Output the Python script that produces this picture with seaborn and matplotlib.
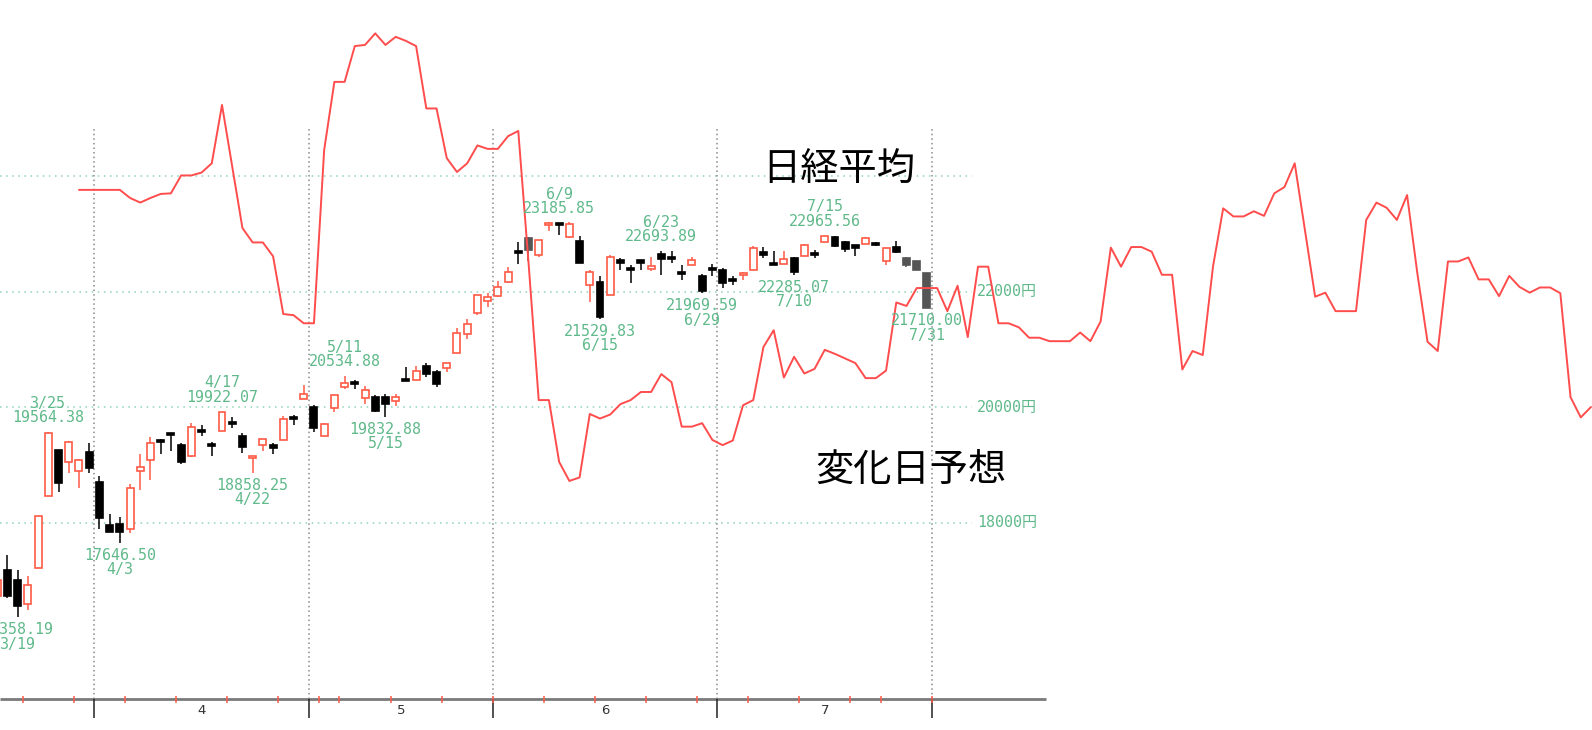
import numpy as np
import pandas as pd
import matplotlib
matplotlib.use('Agg')
import matplotlib.pyplot as plt
from matplotlib import font_manager
import seaborn as sns

# --- data --------------------------------------------------------------------
DATES = ['3/17', '3/18', '3/19', '3/23', '3/24', '3/25', '3/26', '3/27', '3/30', '3/31',
         '4/1', '4/2', '4/3', '4/6', '4/7', '4/8', '4/9', '4/10', '4/13', '4/14', '4/15',
         '4/16', '4/17', '4/20', '4/21', '4/22', '4/23', '4/24', '4/27', '4/28', '4/30',
         '5/1', '5/7', '5/8', '5/11', '5/12', '5/13', '5/14', '5/15', '5/18', '5/19',
         '5/20', '5/21', '5/22', '5/25', '5/26', '5/27', '5/28', '5/29',
         '6/1', '6/2', '6/3', '6/4', '6/5', '6/8', '6/9', '6/10', '6/11', '6/12', '6/15',
         '6/16', '6/17', '6/18', '6/19', '6/22', '6/23', '6/24', '6/25', '6/26', '6/29', '6/30',
         '7/1', '7/2', '7/3', '7/6', '7/7', '7/8', '7/9', '7/10', '7/13', '7/14', '7/15',
         '7/16', '7/17', '7/20', '7/21', '7/22', '7/27', '7/28', '7/29', '7/30', '7/31']

OPEN = [16720, 17180, 17000, 16590, 17220, 18460, 19250, 19040, 18900, 19220,
        18710, 17960, 17970, 17880, 18900, 19080, 19400, 19530, 19340, 19150, 19610,
        19330, 19580, 19720, 19500, 19120, 19340, 19340, 19430, 19810, 20140,
        20000, 19500, 19980, 20350, 20440, 20150, 20180, 20180, 20110, 20470,
        20470, 20710, 20610, 20670, 20940, 21260, 21630, 21840,
        21920, 22170, 22670, 22920, 22630, 23150, 23160, 22950, 22880, 22110, 22170,
        21940, 22550, 22390, 22540, 22390, 22650, 22580, 22320, 22460, 22270, 22380,
        22370, 22210, 22280, 22370, 22680, 22480, 22470, 22580, 22620, 22650, 22860,
        22940, 22850, 22800, 22820, 22810, 22520, 22770, 22580, 22520, 22320]
HIGH = [17060, 17440, 17180, 17070, 18120, 19564.38, 19250, 19410, 19100, 19370,
        18800, 18150, 18090, 18670, 19190, 19480, 19440, 19530, 19370, 19720, 19690,
        19400, 19922.07, 19820, 19550, 19160, 19450, 19370, 19850, 19870, 20380,
        20030, 19730, 20210, 20534.88, 20470, 20360, 20210, 20220, 20220, 20700,
        20710, 20760, 20640, 20760, 21360, 21520, 21940, 21970,
        22190, 22430, 22860, 22950, 22890, 23200, 23185.85, 23200, 22960, 22370, 22270,
        22630, 22580, 22460, 22540, 22590, 22693.89, 22700, 22460, 22590, 22300, 22480,
        22400, 22270, 22340, 22780, 22770, 22710, 22700, 22590, 22820, 22720, 22965.56,
        22960, 22880, 22800, 22950, 22860, 22750, 22880, 22590, 22520, 22320]
LOW = [16700, 16700, 16358.19, 16480, 17220, 18460, 18520, 18850, 18590, 18850,
       17880, 17840, 17646.50, 17820, 18560, 18740, 19190, 19240, 19020, 19130, 19490,
       19160, 19580, 19630, 19210, 18858.25, 19230, 19190, 19430, 19690, 20140,
       19570, 19490, 19920, 20310, 20320, 20060, 19920, 19832.88, 20020, 20450,
       20470, 20520, 20350, 20600, 20940, 21170, 21590, 21730,
       21900, 22140, 22480, 22520, 22590, 23050, 22970, 22920, 22500, 21820, 21529.83,
       21940, 22370, 22140, 22370, 22360, 22290, 22490, 22200, 22460, 21969.59, 22270,
       22060, 22110, 22200, 22370, 22580, 22460, 22470, 22285.07, 22620, 22580, 22860,
       22770, 22690, 22620, 22820, 22780, 22460, 22660, 22430, 22370, 21710.00]
CLOSE = [17010, 16730, 16560, 16920, 18110, 19550, 18690, 19400, 19090, 18940,
         18080, 17840, 17840, 18590, 18960, 19370, 19390, 19520, 19050, 19650, 19560,
         19320, 19910, 19710, 19300, 19160, 19450, 19290, 19800, 19800, 20220,
         19630, 19700, 20200, 20410, 20390, 20290, 19930, 20050, 20170, 20450,
         20630, 20570, 20390, 20760, 21290, 21440, 21940, 21900,
         22080, 22340, 22660, 22720, 22890, 23190, 23150, 23170, 22500, 22330, 21560,
         22600, 22490, 22380, 22500, 22440, 22560, 22570, 22310, 22550, 22010, 22370,
         22140, 22190, 22290, 22750, 22630, 22460, 22560, 22330, 22810, 22640, 22960,
         22790, 22730, 22750, 22920, 22800, 22750, 22690, 22460, 22370, 21710]

HIGH_MARKS = ['3/25', '4/17', '5/11', '6/9', '6/23', '7/15']
LOW_MARKS = ['3/19', '4/3', '4/22', '5/15', '6/15', '6/29', '7/10', '7/31']
FADED_DAYS = ['6/4', '7/29', '7/30', '7/31']

# change-day forecast line, one point per trading day, starting at 3/30
FORECAST_START = '3/30'
FORECAST = [23760, 23760, 23760, 23760, 23760, 23620, 23540, 23620, 23690, 23700,
            24010, 24010, 24060, 24220, 25230, 24160, 23100, 22850, 22850, 22610,
            21610, 21590, 21450, 21450, 24450, 25630, 25630, 26250, 26270, 26470,
            26270, 26410, 26340, 26250, 25170, 25170, 24310, 24070, 24220, 24530,
            24470, 24470, 24690, 24780, 22510, 20120, 20120, 19050, 18720, 18780,
            19880, 19800, 19870, 20050, 20120, 20260, 20260, 20570, 20430, 19660,
            19660, 19720, 19430, 19340, 19420, 20030, 20120, 21040, 21330, 20510,
            20870, 20580, 20660, 20990, 20920, 20840, 20760, 20500, 20500, 20630,
            21810, 21750, 22060, 22060, 22060, 21660, 22100, 21210, 22430, 22430,
            21450, 21450, 21380, 21200, 21200, 21140, 21140, 21140, 21290, 21140,
            21480, 22760, 22430, 22770, 22770, 22690, 22290, 22290, 20650, 20970,
            20900, 22430, 23440, 23300, 23300, 23390, 23310, 23700, 23810, 24220,
            23070, 21910, 21980, 21660, 21660, 21660, 23240, 23540, 23450, 23240,
            23670, 22320, 21130, 20970, 22520, 22520, 22590, 22210, 22210, 21920,
            22270, 22080, 21980, 22070, 22070, 21970, 20170, 19820, 20000]

GRID_LEVELS = [24000, 22000, 20000, 18000]
PRICE_LABELS = [22000, 20000, 18000]

# --- styling ---------------------------------------------------------------
UP = '#ff5a46'
LINE_RED = '#ff4c4c'
GREEN = '#5fb98a'

sns.set_theme(style='white')
names = {f.name for f in font_manager.fontManager.ttflist}
if 'Noto Sans Mono CJK JP' in names:
    num_font, num_size = ['Noto Sans Mono CJK JP', 'DejaVu Sans'], 12.6
else:
    num_font, num_size = ['DejaVu Sans Mono', 'Noto Sans CJK JP'], 10.8
plt.rcParams['font.family'] = ['Noto Sans CJK JP', 'DejaVu Sans']

df = pd.DataFrame({'date': DATES, 'open': OPEN, 'high': HIGH, 'low': LOW, 'close': CLOSE})
df['i'] = np.arange(len(df))
dt = pd.to_datetime('2020/' + df['date'], format='%Y/%m/%d')

fc = pd.DataFrame({'value': FORECAST})
fc['i'] = DATES.index(FORECAST_START) + np.arange(len(fc))

# month and week separators
month_sep = [i - 0.5 for i in range(1, len(df)) if dt[i].month != dt[i - 1].month] + [len(df) - 0.5]
week_sep = [i - 0.5 for i in range(1, len(df))
            if dt[i].isocalendar().week != dt[i - 1].isocalendar().week] + [len(df) - 0.5]

fig = plt.figure(figsize=(15.92, 7.30), dpi=100)
ax = fig.add_axes([0, 0, 1, 1])
X0, X1 = 0.27, 156.1
Y0, Y1 = 14407, 27048
BASE = 14944
ax.set_xlim(X0, X1)
ax.set_ylim(Y0, Y1)
ax.axis('off')

# grid
ax.hlines(GRID_LEVELS, X0, 95.4, colors='#8fd3b6', linestyles=(0, (1, 3)), lw=1.1, zorder=1)
ax.vlines(month_sep, BASE, 24830, colors='#8a8a8a', linestyles=(0, (1, 2)), lw=1.1, zorder=1)
for lvl in PRICE_LABELS:
    ax.text(95.9, lvl, f'{lvl}円', ha='left', va='center', color=GREEN,
            fontsize=num_size, family=num_font, zorder=2)

# candles
for _, r in df.iterrows():
    up = r['close'] > r['open']
    if up:
        edge, fill = UP, 'white'
    else:
        edge = fill = '#555555' if r['date'] in FADED_DAYS else 'black'
    lo, hi = min(r['open'], r['close']), max(r['open'], r['close'])
    ax.vlines(r['i'], r['low'], r['high'], color=edge, lw=1.1, zorder=3)
    ax.bar(r['i'], max(hi - lo, 35), bottom=lo, width=0.68, facecolor=fill,
           edgecolor=edge, lw=1.2, zorder=4)

# forecast line
sns.lineplot(data=fc, x='i', y='value', color=LINE_RED, lw=1.4, ax=ax, zorder=5)

# high / low annotations
for d in HIGH_MARKS:
    r = df[df['date'] == d].iloc[0]
    ax.annotate(f"{d}\n{r['high']:.2f}", xy=(r['i'], r['high']), xytext=(0, 5),
                textcoords='offset points', ha='center', va='bottom', color=GREEN,
                fontsize=num_size, family=num_font, linespacing=0.95, zorder=6)
for d in LOW_MARKS:
    r = df[df['date'] == d].iloc[0]
    ax.annotate(f"{r['low']:.2f}\n{d}", xy=(r['i'], r['low']), xytext=(0, -3.5),
                textcoords='offset points', ha='center', va='top', color=GREEN,
                fontsize=num_size, family=num_font, linespacing=0.95, zorder=6)

# bottom axis
ax.hlines(BASE, X0, 102.7, color='#7a7a7a', lw=2, zorder=6)
ax.vlines(month_sep, 14615, BASE, color='#222222', lw=1.1, zorder=6)
ax.vlines(week_sep, 14880, 14990, color=UP, lw=1.1, zorder=7)
for a, b in zip(month_sep[:-1], month_sep[1:]):
    mid = (a + b) / 2
    ax.text(mid, 14753, str(dt[int(np.ceil(mid))].month), ha='center', va='center',
            fontsize=9.5, color='#333333', family='DejaVu Sans')

fig.text(0.479, 0.766, '日経平均', fontsize=27.5, ha='left', va='center', color='black')
fig.text(0.512, 0.356, '変化日予想', fontsize=27.5, ha='left', va='center', color='black')

fig.savefig('out.png', dpi=100, facecolor='white')
